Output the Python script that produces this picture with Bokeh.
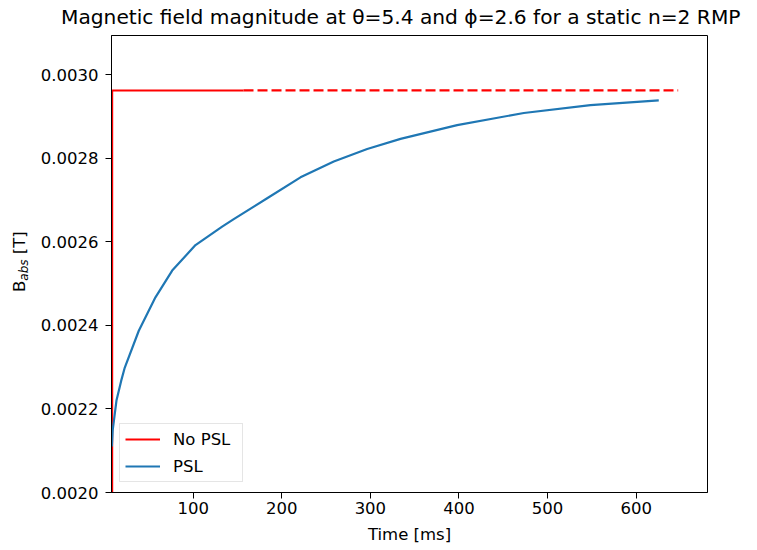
from bokeh.plotting import figure
from bokeh.layouts import row, column
from bokeh.models import Range1d, FixedTicker, PrintfTickFormatter, Legend, LegendItem, Div
from bokeh.embed import file_html
from bokeh.resources import INLINE

# ---- data ----
title_text = "Magnetic field magnitude at θ=5.4 and ϕ=2.6 for a static n=2 RMP"
x_label = "Time [ms]"
y_label_main, y_label_sub, y_label_unit = "B", "abs", "[T]"

nopsl_t = [8.6, 8.6, 156.8]
nopsl_b = [0.0019, 0.002962, 0.002962]

nopsl_ext_t = [156.8, 647.4]
nopsl_ext_b = [0.002962, 0.002962]

psl_t = [8.2, 9.2, 13.4, 18.7, 22.8, 38.6, 57.4, 76.3, 102.6, 132.7, 145.8,
         183.5, 221.1, 258.7, 296.4, 334.0, 397.9, 473.2, 548.4, 625.5]
psl_b = [0.00211, 0.00215, 0.00222, 0.002267, 0.002299, 0.002387, 0.002467,
         0.002531, 0.002592, 0.002636, 0.002654, 0.002704, 0.002754, 0.002792,
         0.002822, 0.002846, 0.002879, 0.002908, 0.002927, 0.002938]

x_ticks = [100, 200, 300, 400, 500, 600]
y_ticks = [0.0020, 0.0022, 0.0024, 0.0026, 0.0028, 0.0030]

x_lo, x_hi = 7.8, 680.5
y_lo, y_hi = 0.0020, 0.0030934

FONT = "DejaVu Sans"
FS = "16.5px"
W = 757
TH = 32          # height of the title strip
H = 550 - TH     # height of the plot row
LW = 30          # width of the strip that carries the y label

# ---- title (HTML text) ----
title_html = (
    '<div style="position:absolute; left:61px; top:3px; white-space:nowrap; '
    'font-family:\'DejaVu Sans\'; font-size:20.2px; color:black;">'
    + title_text + '</div>'
)
title_div = Div(text=title_html, width=W, height=TH, margin=(0, 0, 0, 0))

# ---- main plot ----
p = figure(width=W - LW, height=H, output_backend="svg", toolbar_location=None,
           x_range=Range1d(x_lo, x_hi), y_range=Range1d(y_lo, y_hi),
           min_border_left=111 - LW, min_border_right=50, min_border_top=35 - TH,
           min_border_bottom=58)

p.xgrid.visible = False
p.ygrid.visible = False
p.outline_line_color = "black"
p.outline_line_width = 1
p.outline_line_alpha = 1
p.background_fill_color = "white"
p.border_fill_color = "white"

for ax in (p.xaxis[0], p.yaxis[0]):
    ax.axis_line_color = "black"
    ax.axis_line_width = 1
    ax.major_tick_line_color = "black"
    ax.major_tick_line_width = 1
    ax.major_tick_out = 6
    ax.major_tick_in = 0
    ax.minor_tick_out = 0
    ax.minor_tick_in = 0
    ax.major_label_text_font = FONT
    ax.major_label_text_font_size = FS
    ax.major_label_text_color = "black"

p.xaxis.ticker = FixedTicker(ticks=x_ticks)
p.yaxis.ticker = FixedTicker(ticks=y_ticks)
p.yaxis.formatter = PrintfTickFormatter(format="%.4f")
p.xaxis.major_label_standoff = 3
p.yaxis.major_label_standoff = 7

p.xaxis.axis_label = x_label
p.xaxis.axis_label_text_font = FONT
p.xaxis.axis_label_text_font_size = FS
p.xaxis.axis_label_text_font_style = "normal"
p.xaxis.axis_label_text_color = "black"
p.xaxis.axis_label_standoff = 8

r_red = p.line(nopsl_t, nopsl_b, line_color="red", line_width=2.0)
r_red_ext = p.line(nopsl_ext_t, nopsl_ext_b, line_color="red", line_width=2.2,
                   line_dash="10 4")
r_blue = p.line(psl_t, psl_b, line_color="#1f77b4", line_width=2.2)

legend = Legend(items=[LegendItem(label="No PSL", renderers=[r_red]),
                       LegendItem(label="PSL", renderers=[r_blue])],
                location=(8, 10), margin=0, padding=5, spacing=7,
                glyph_width=35, glyph_height=20, label_height=20,
                label_width=64, label_standoff=13, label_text_font=FONT,
                label_text_font_size=FS, label_text_color="black",
                border_line_color="#cccccc", border_line_width=1,
                background_fill_color="white", background_fill_alpha=0.8)
p.add_layout(legend)

# ---- rotated y label with italic subscript, as real HTML text ----
ylab_html = (
    '<div style="position:absolute; left:9.8px; top:' + str(292 - TH) + 'px; '
    'transform-origin:0 0; transform:rotate(-90deg); white-space:nowrap; '
    'font-family:\'DejaVu Sans\'; font-size:16.5px; line-height:19px; color:black;">'
    + y_label_main
    + '<span style="position:relative; top:3px; font-style:italic; font-size:12px;">'
    + y_label_sub + '</span> ' + y_label_unit + '</div>'
)
ylab = Div(text=ylab_html, width=LW, height=H, margin=(0, 0, 0, 0))

layout = column(title_div, row(ylab, p))
open("out.html", "w").write(file_html(layout, INLINE))
